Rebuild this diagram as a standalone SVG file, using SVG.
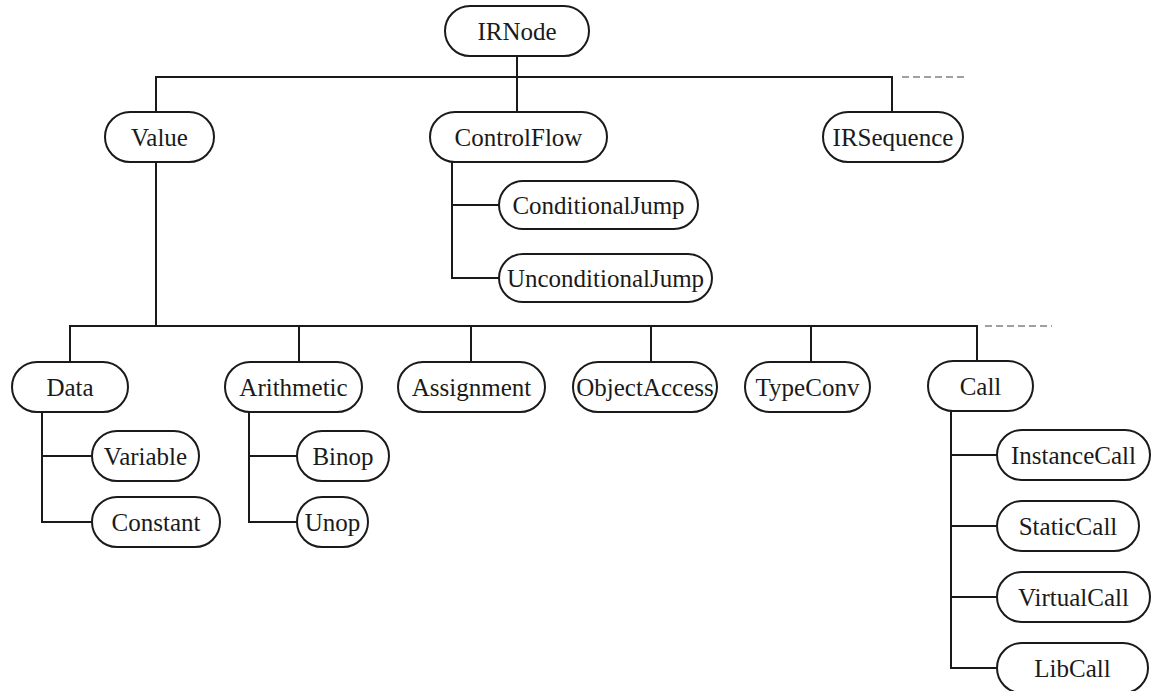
<svg xmlns="http://www.w3.org/2000/svg" width="1155" height="691" viewBox="0 0 1155 691">
  <style>
    .box { fill: #ffffff; stroke: #1a1a1a; stroke-width: 2; }
    .lbl { font-family: "Liberation Serif", "Times New Roman", serif; font-size: 25px; fill: #1a1a1a; text-anchor: middle; }
    .wire { fill: none; stroke: #1a1a1a; stroke-width: 2; stroke-linecap: square; }
    .more { fill: none; stroke: #a0a0a0; stroke-width: 2; stroke-dasharray: 7 4; }
  </style>
  <rect width="1155" height="691" fill="#ffffff"/>

  <!-- tree connectors -->
  <g id="connectors">
    <path class="wire" d="M517 56 V112 M156 77 H892 M156 77 V112 M892 77 V112"/>
    <path class="more" d="M902 77 H968"/>
    <path class="wire" d="M156 162 V326 M70 326 H977 M70 326 V362 M299 326 V362 M471 326 V362 M651 326 V362 M811 326 V362 M977 326 V361"/>
    <path class="more" d="M985 326 H1052"/>
    <path class="wire" d="M452 162 V278 M452 205 H499 M452 278 H499"/>
    <path class="wire" d="M42 412 V522 M42 456 H92 M42 522 H92"/>
    <path class="wire" d="M249 412 V522 M249 456 H297 M249 522 H297"/>
    <path class="wire" d="M951 411 V668 M951 455 H997 M951 526 H997 M951 597 H997 M951 668 H997"/>
  </g>

  <g id="IRNode"><rect class="box" x="445" y="6" width="144" height="50" rx="25"/><text class="lbl" x="517" y="40">IRNode</text></g>

  <g id="Value"><rect class="box" x="105" y="112" width="109" height="50" rx="25"/><text class="lbl" x="159.5" y="146">Value</text></g>
  <g id="ControlFlow"><rect class="box" x="430" y="112" width="177" height="50" rx="25"/><text class="lbl" x="518.5" y="146">ControlFlow</text></g>
  <g id="IRSequence"><rect class="box" x="823" y="112" width="140" height="50" rx="25"/><text class="lbl" x="893" y="146">IRSequence</text></g>

  <g id="ConditionalJump"><rect class="box" x="499" y="181" width="199" height="48" rx="24"/><text class="lbl" x="598.5" y="214">ConditionalJump</text></g>
  <g id="UnconditionalJump"><rect class="box" x="499" y="254" width="213" height="48" rx="24"/><text class="lbl" x="605.5" y="287">UnconditionalJump</text></g>

  <g id="Data"><rect class="box" x="12" y="362" width="116" height="50" rx="25"/><text class="lbl" x="70" y="396">Data</text></g>
  <g id="Arithmetic"><rect class="box" x="225" y="362" width="137" height="50" rx="25"/><text class="lbl" x="293.5" y="396">Arithmetic</text></g>
  <g id="Assignment"><rect class="box" x="398" y="362" width="147" height="50" rx="25"/><text class="lbl" x="471.5" y="396">Assignment</text></g>
  <g id="ObjectAccess"><rect class="box" x="573" y="362" width="144" height="50" rx="25"/><text class="lbl" x="645" y="396">ObjectAccess</text></g>
  <g id="TypeConv"><rect class="box" x="745" y="362" width="125" height="50" rx="25"/><text class="lbl" x="807.5" y="396">TypeConv</text></g>
  <g id="Call"><rect class="box" x="928" y="361" width="105" height="50" rx="25"/><text class="lbl" x="980.5" y="395">Call</text></g>

  <g id="Variable"><rect class="box" x="92" y="431" width="107" height="50" rx="25"/><text class="lbl" x="145.5" y="465">Variable</text></g>
  <g id="Constant"><rect class="box" x="92" y="497" width="128" height="50" rx="25"/><text class="lbl" x="156" y="531">Constant</text></g>
  <g id="Binop"><rect class="box" x="297" y="431" width="92" height="50" rx="25"/><text class="lbl" x="343" y="465">Binop</text></g>
  <g id="Unop"><rect class="box" x="297" y="497" width="71" height="50" rx="25"/><text class="lbl" x="332.5" y="531">Unop</text></g>

  <g id="InstanceCall"><rect class="box" x="997" y="430" width="153" height="50" rx="25"/><text class="lbl" x="1073.5" y="464">InstanceCall</text></g>
  <g id="StaticCall"><rect class="box" x="997" y="501" width="142" height="50" rx="25"/><text class="lbl" x="1068" y="535">StaticCall</text></g>
  <g id="VirtualCall"><rect class="box" x="997" y="572" width="153" height="50" rx="25"/><text class="lbl" x="1073.5" y="606">VirtualCall</text></g>
  <g id="LibCall"><rect class="box" x="997" y="643" width="151" height="50" rx="25"/><text class="lbl" x="1072.5" y="677">LibCall</text></g>
</svg>
